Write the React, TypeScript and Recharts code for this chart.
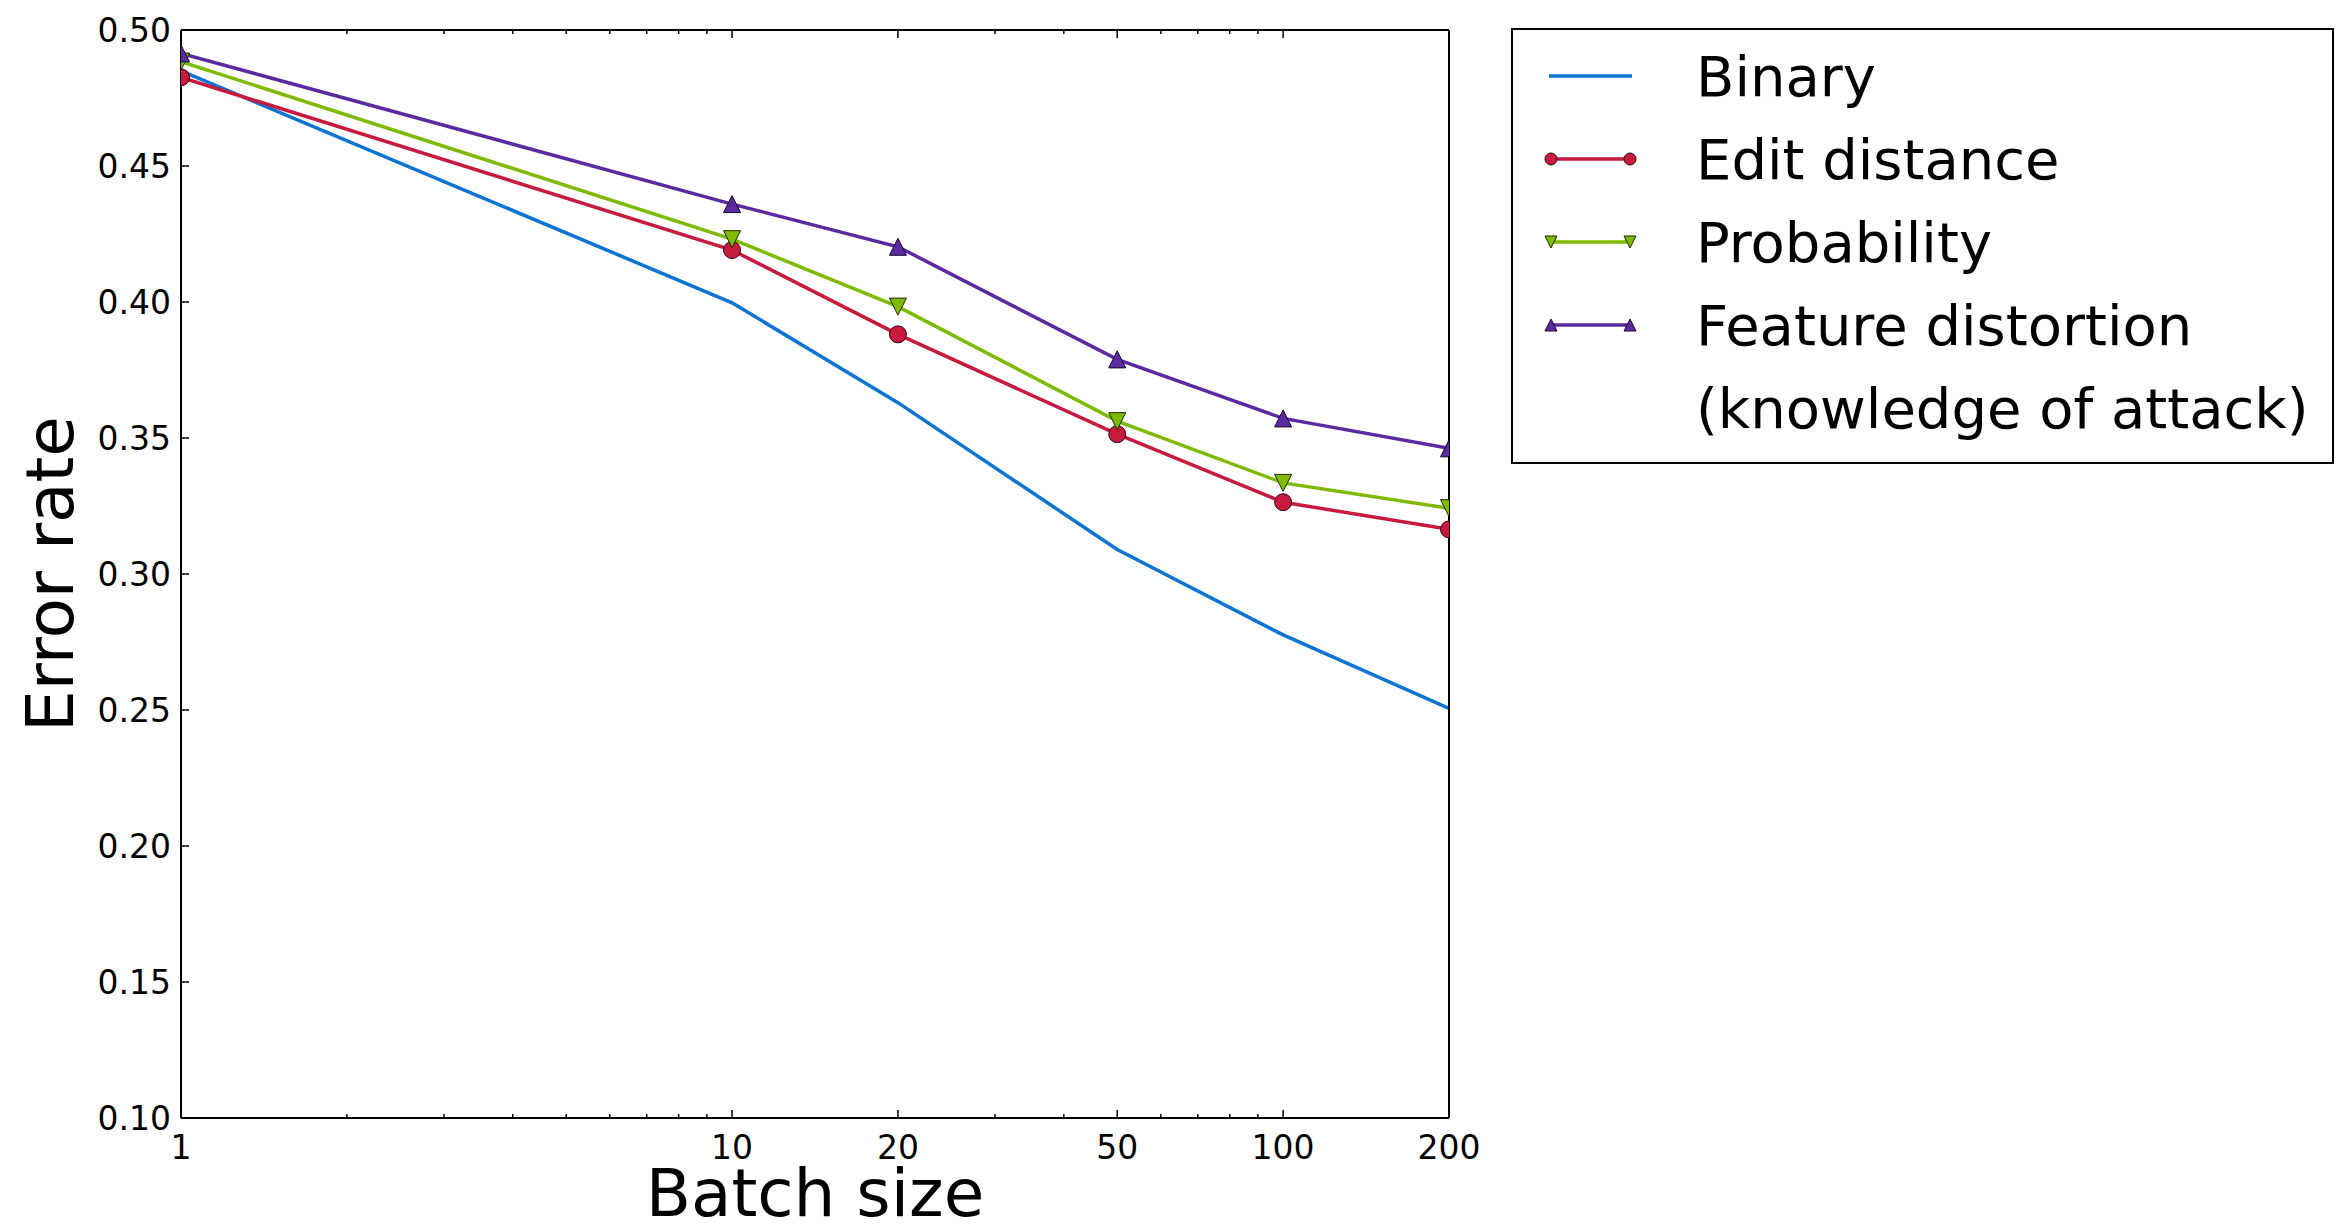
import { LineChart, Line, XAxis, YAxis } from 'recharts';

const batchSizes = [1, 10, 20, 50, 100, 200];
const binary = [0.485, 0.3997, 0.363, 0.309, 0.2776, 0.2506];
const editDistance = [0.4826, 0.4191, 0.3881, 0.3514, 0.3264, 0.3164];
const probability = [0.4884, 0.4231, 0.3983, 0.3562, 0.3335, 0.3242];
const featureDistortion = [0.4914, 0.436, 0.4203, 0.3789, 0.3572, 0.3462];

const majorX = [1, 10, 20, 50, 100, 200];
const allX = [1, 2, 3, 4, 5, 6, 7, 8, 9, 10, 20, 30, 40, 50, 60, 70, 80, 90, 100, 200];
const yTicks = [0.1, 0.15, 0.2, 0.25, 0.3, 0.35, 0.4, 0.45, 0.5];

const FONT = '"DejaVu Sans", sans-serif';

type SeriesDef = { key: string; name: string[]; color: string; marker: 'none' | 'circle' | 'down' | 'up' };

const series: SeriesDef[] = [
  { key: 'binary', name: ['Binary'], color: '#0a74d4', marker: 'none' },
  { key: 'edit', name: ['Edit distance'], color: '#c8193e', marker: 'circle' },
  { key: 'prob', name: ['Probability'], color: '#7fba00', marker: 'down' },
  { key: 'feature', name: ['Feature distortion', '(knowledge of attack)'], color: '#5c2aa0', marker: 'up' },
];

const data = batchSizes.map((b, i) => ({
  batch: b,
  binary: binary[i],
  edit: editDistance[i],
  prob: probability[i],
  feature: featureDistortion[i],
}));

function Marker({ cx, cy, kind, color, size }: { cx: number; cy: number; kind: string; color: string; size: number }) {
  const s = size;
  if (kind === 'circle') return <circle cx={cx} cy={cy} r={s} fill={color} stroke="#2a0a10" strokeWidth={1} />;
  if (kind === 'down')
    return <polygon points={`${cx - s},${cy - s} ${cx + s},${cy - s} ${cx},${cy + s}`} fill={color} stroke="#1c2a00" strokeWidth={1} />;
  if (kind === 'up')
    return <polygon points={`${cx - s},${cy + s} ${cx + s},${cy + s} ${cx},${cy - s}`} fill={color} stroke="#140828" strokeWidth={1} />;
  return null;
}

const makeDot = (sd: SeriesDef) => (props: any) => (
  <Marker key={`${sd.key}-${props.index}`} cx={props.cx} cy={props.cy} kind={sd.marker} color={sd.color} size={8.5} />
);

const BottomTick = (props: any) => {
  const { x, y, payload } = props;
  const major = majorX.includes(payload.value);
  return (
    <g>
      <line x1={x} x2={x} y1={y} y2={y - (major ? 8 : 4)} stroke="#000" strokeWidth={1.5} />
      {major && (
        <text x={x} y={y + 41} textAnchor="middle" fontSize={33} fontFamily={FONT} fill="#000">
          {payload.value}
        </text>
      )}
    </g>
  );
};

const TopTick = (props: any) => {
  const { x, y, payload } = props;
  const major = majorX.includes(payload.value);
  return <line x1={x} x2={x} y1={y} y2={y + (major ? 8 : 4)} stroke="#000" strokeWidth={1.5} />;
};

const LeftTick = (props: any) => {
  const { x, y, payload } = props;
  return (
    <g>
      <line x1={x} x2={x + 8} y1={y} y2={y} stroke="#000" strokeWidth={1.5} />
      <text x={x - 10} y={y + 12} textAnchor="end" fontSize={33} fontFamily={FONT} fill="#000">
        {payload.value.toFixed(2)}
      </text>
    </g>
  );
};

const RightTick = (props: any) => {
  const { x, y } = props;
  return <line x1={x} x2={x - 8} y1={y} y2={y} stroke="#000" strokeWidth={1.5} />;
};

function LegendBox() {
  const left = 1512;
  const top = 29;
  const rows: { y: number; text: string; sd?: SeriesDef }[] = [];
  let i = 0;
  series.forEach((sd) => {
    sd.name.forEach((t, j) => {
      rows.push({ y: 76 + i * 83, text: t, sd: j === 0 ? sd : undefined });
      i++;
    });
  });
  return (
    <svg width={2348} height={1232} style={{ position: 'absolute', left: 0, top: 0, pointerEvents: 'none' }}>
      <rect x={left} y={top} width={821} height={434} fill="#fff" stroke="#000" strokeWidth={2} />
      {rows.map((r) => (
        <g key={r.text}>
          {r.sd && (
            <>
              <line x1={1549} x2={1632} y1={r.y} y2={r.y} stroke={r.sd.color} strokeWidth={3.5} />
              <Marker cx={1551} cy={r.y} kind={r.sd.marker} color={r.sd.color} size={6} />
              <Marker cx={1630} cy={r.y} kind={r.sd.marker} color={r.sd.color} size={6} />
            </>
          )}
          <text x={1696} y={r.y + 20} fontSize={56} fontFamily={FONT} fill="#000">
            {r.text}
          </text>
        </g>
      ))}
    </svg>
  );
}

export default function App() {
  return (
    <div style={{ position: 'absolute', left: 0, top: 0, width: 2348, height: 1232, background: '#fff' }}>
      <LineChart width={2348} height={1232} data={data} margin={{ top: 0, right: 0, bottom: 0, left: 0 }}>
        <XAxis
          dataKey="batch"
          type="number"
          scale="log"
          domain={[1, 200]}
          ticks={allX}
          interval={0}
          allowDataOverflow
          height={114}
          tickSize={0}
          tickMargin={0}
          tickLine={false}
          tick={BottomTick}
          axisLine={{ stroke: '#000', strokeWidth: 2 }}
        />
        <XAxis
          xAxisId="top"
          orientation="top"
          dataKey="batch"
          type="number"
          scale="log"
          domain={[1, 200]}
          ticks={allX}
          interval={0}
          allowDataOverflow
          height={30}
          tickSize={0}
          tickMargin={0}
          tickLine={false}
          tick={TopTick}
          axisLine={{ stroke: '#000', strokeWidth: 2 }}
        />
        <YAxis
          type="number"
          domain={[0.1, 0.5]}
          ticks={yTicks}
          interval={0}
          allowDataOverflow
          width={181}
          tickSize={0}
          tickMargin={0}
          tickLine={false}
          tick={LeftTick}
          axisLine={{ stroke: '#000', strokeWidth: 2 }}
        />
        <YAxis
          yAxisId="right"
          orientation="right"
          type="number"
          domain={[0.1, 0.5]}
          ticks={yTicks}
          interval={0}
          width={899}
          tickSize={0}
          tickMargin={0}
          tickLine={false}
          tick={RightTick}
          axisLine={{ stroke: '#000', strokeWidth: 2 }}
        />
        {series.map((sd) => (
          <Line
            key={sd.key}
            dataKey={sd.key}
            stroke={sd.color}
            strokeWidth={3.5}
            dot={sd.marker === 'none' ? false : makeDot(sd)}
            activeDot={false}
            isAnimationActive={false}
          />
        ))}
        <text x={815} y={1216} textAnchor="middle" fontSize={66} fontFamily={FONT} fill="#000">
          Batch size
        </text>
        <text
          x={73}
          y={574}
          textAnchor="middle"
          fontSize={66}
          fontFamily={FONT}
          fill="#000"
          transform="rotate(-90 73 574)"
        >
          Error rate
        </text>
      </LineChart>
      <LegendBox />
    </div>
  );
}
